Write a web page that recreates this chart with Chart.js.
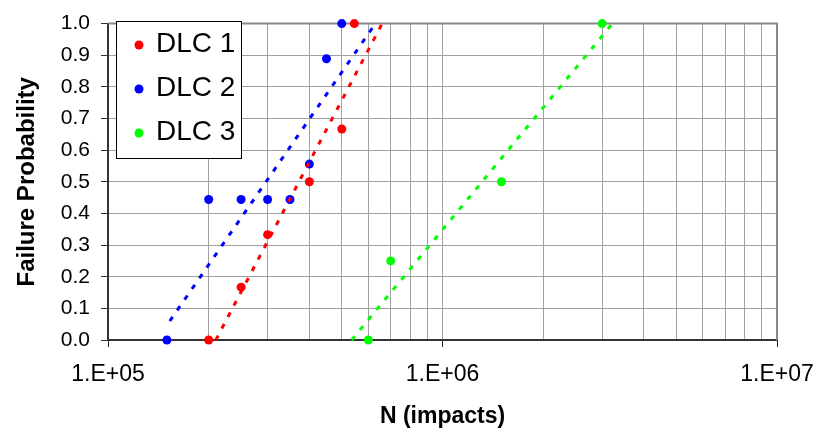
<!DOCTYPE html>
<html>
<head>
<meta charset="utf-8">
<script src="https://cdn.jsdelivr.net/npm/chart.js@4.4.1/dist/chart.umd.min.js"></script>
<style>
  html, body { margin: 0; padding: 0; background: #fff; }
</style>
</head>
<body>
<canvas id="fatigueChart" width="830" height="435"></canvas>
<script>
// Measured failures: number of impacts vs. failure probability
const dlc1N = [2.0e5, 2.5e5, 3.0e5, 4.0e5, 5.0e5, 5.45e5];
const dlc1P = [0, 0.167, 0.333, 0.5, 0.667, 1.0];
const dlc2N = [1.5e5, 2.0e5, 2.5e5, 3.0e5, 3.5e5, 4.0e5, 4.5e5, 5.0e5];
const dlc2P = [0, 0.444, 0.444, 0.444, 0.444, 0.556, 0.889, 1.0];
const dlc3N = [6.0e5, 7.0e5, 1.5e6, 3.0e6];
const dlc3P = [0, 0.25, 0.5, 1.0];

// Fitted trend lines (end points, straight on the log axis)
const fit1N = [2.1e5, 6.6e5];
const fit1P = [0, 1];
const fit2N = [1.53e5, 6.3e5];
const fit2P = [0.06, 1];
const fit3N = [5.35e5, 3.22e6];
const fit3P = [0, 1];

// Axis ticks
const xMajorValues = [1e5, 1e6, 1e7];
const xTickLabels = ['1.E+05', '1.E+06', '1.E+07'];

const seriesLabels = ['DLC 1', 'DLC 2', 'DLC 3'];
const seriesColors = ['#ff0000', '#0000ff', '#00ff00'];

function toPoints(xs, ys) {
    return xs.map((x, i) => ({ x: x, y: ys[i] }));
}

Chart.defaults.font.family = '"Liberation Sans", Arial, sans-serif';
Chart.defaults.color = '#000';

const pointSets = [[dlc1N, dlc1P], [dlc2N, dlc2P], [dlc3N, dlc3P]];
const fitSets = [[fit1N, fit1P], [fit2N, fit2P], [fit3N, fit3P]];

const datasets = [];
pointSets.forEach((s, i) => {
    datasets.push({
        label: seriesLabels[i],
        data: toPoints(s[0], s[1]),
        backgroundColor: seriesColors[i],
        borderColor: seriesColors[i],
        pointRadius: 4.5,
        pointBorderWidth: 0,
        showLine: false,
        clip: false,
        order: 2
    });
});
fitSets.forEach((s, i) => {
    datasets.push({
        label: seriesLabels[i] + ' fit',
        data: toPoints(s[0], s[1]),
        borderColor: seriesColors[i],
        backgroundColor: seriesColors[i],
        borderWidth: 3,
        borderDash: [5, 8],
        pointRadius: 0,
        showLine: true,
        clip: false,
        order: 1
    });
});

// top and right frame of the plot area
const frame = {
    id: 'frame',
    beforeDatasetsDraw(chart) {
        const { ctx, chartArea: a } = chart;
        ctx.save();
        ctx.strokeStyle = '#888';
        ctx.lineWidth = 2;
        ctx.beginPath();
        ctx.moveTo(a.left, a.top);
        ctx.lineTo(a.right, a.top);
        ctx.lineTo(a.right, a.bottom);
        ctx.stroke();
        ctx.restore();
    }
};

// boxed legend sitting inside the plot
const boxLegend = {
    id: 'boxLegend',
    afterDatasetsDraw(chart) {
        const ctx = chart.ctx;
        const x0 = 116, y0 = 21, w = 125, h = 137;
        ctx.save();
        ctx.fillStyle = '#fff';
        ctx.fillRect(x0, y0, w, h);
        ctx.strokeStyle = '#000';
        ctx.lineWidth = 1;
        ctx.strokeRect(x0 + 0.5, y0 + 0.5, w, h);
        ctx.font = '28px "Liberation Sans", Arial, sans-serif';
        ctx.textBaseline = 'middle';
        ctx.textAlign = 'left';
        for (let i = 0; i < 3; i++) {
            const ds = chart.data.datasets[i];
            const cy = y0 + 23 + i * 44;
            ctx.fillStyle = ds.backgroundColor;
            ctx.beginPath();
            ctx.arc(x0 + 23, cy + 1, 4.5, 0, Math.PI * 2);
            ctx.fill();
            ctx.fillStyle = '#000';
            ctx.fillText(ds.label, x0 + 40, cy);
        }
        ctx.restore();
    }
};

const isMajor = v => xMajorValues.indexOf(v) >= 0;

new Chart(document.getElementById('fatigueChart'), {
    type: 'scatter',
    data: { datasets: datasets },
    plugins: [frame, boxLegend],
    options: {
        responsive: false,
        animation: false,
        devicePixelRatio: 1,
        layout: { padding: { top: 16, right: 53, left: 0, bottom: 0 } },
        plugins: {
            legend: { display: false },
            tooltip: { enabled: false }
        },
        scales: {
            x: {
                type: 'logarithmic',
                min: 1e5,
                max: 1e7,
                afterFit(scale) { scale.height = 95; },
                afterBuildTicks(scale) {
                    const vals = [];
                    [1e5, 1e6].forEach(d => {
                        for (let s = 1; s <= 9; s++) vals.push(s * d);
                    });
                    vals.push(1e7);
                    scale.ticks = vals.map(v => ({ value: v, major: isMajor(v) }));
                },
                ticks: {
                    autoSkip: false,
                    maxRotation: 0,
                    padding: 14,
                    font: { size: 23 },
                    callback(value) {
                        const i = xMajorValues.indexOf(value);
                        return i >= 0 ? xTickLabels[i] : '';
                    }
                },
                grid: {
                    color: '#a0a0a0',
                    lineWidth: 1,
                    tickLength: 7,
                    tickColor: ctx => (ctx.tick && isMajor(ctx.tick.value)) ? '#222' : 'rgba(0,0,0,0)'
                },
                border: { color: '#333', width: 2 },
                title: {
                    display: true,
                    text: 'N (impacts)',
                    font: { size: 23, weight: 'bold' },
                    padding: { top: 0, bottom: 5 }
                }
            },
            y: {
                min: 0,
                max: 1,
                afterFit(scale) { scale.width = 108; },
                ticks: {
                    stepSize: 0.1,
                    padding: 11,
                    font: { size: 21 },
                    callback: v => v.toFixed(1)
                },
                grid: {
                    color: '#a0a0a0',
                    lineWidth: 1,
                    tickLength: 7,
                    tickColor: '#333'
                },
                border: { color: '#333', width: 2 },
                title: {
                    display: true,
                    text: 'Failure Probability',
                    font: { size: 24, weight: 'bold' },
                    padding: { top: 13, bottom: 0 }
                }
            }
        }
    }
});
</script>
</body>
</html>
